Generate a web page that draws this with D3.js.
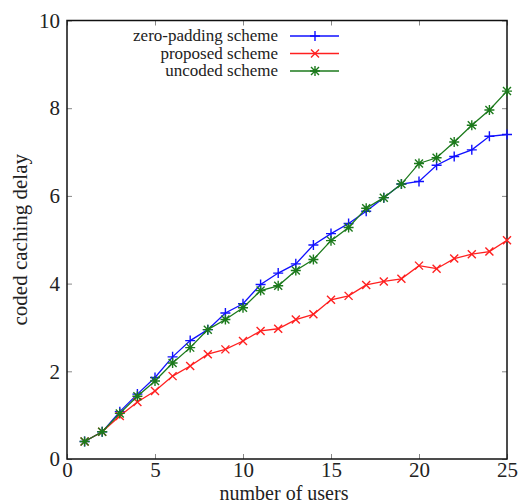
<!DOCTYPE html>
<html>
<head>
<meta charset="utf-8">
<script src="https://cdn.jsdelivr.net/npm/d3@7"></script>
<style>
  body { margin: 0; background: #fff; }
  svg { display: block; }
</style>
</head>
<body>
<div id="chart"></div>
<script>
// Data
var users = d3.range(1, 26);
var zeroPadding = [0.40, 0.62, 1.08, 1.48, 1.86, 2.33, 2.70, 2.95, 3.33, 3.54,
  3.98, 4.24, 4.45, 4.88, 5.14, 5.37, 5.65, 5.96, 6.27, 6.33,
  6.70, 6.90, 7.05, 7.36, 7.40];
var proposed = [0.40, 0.62, 0.98, 1.30, 1.55, 1.89, 2.12, 2.39, 2.50, 2.69,
  2.92, 2.97, 3.18, 3.30, 3.63, 3.72, 3.97, 4.05, 4.11, 4.41,
  4.34, 4.57, 4.67, 4.73, 4.99];
var uncoded = [0.40, 0.62, 1.04, 1.43, 1.78, 2.19, 2.54, 2.95, 3.18, 3.45,
  3.84, 3.95, 4.30, 4.55, 4.98, 5.28, 5.72, 5.96, 6.27, 6.74,
  6.87, 7.23, 7.61, 7.96, 8.39];
var seriesNames = ['zero-padding scheme', 'proposed scheme', 'uncoded scheme'];
var xTicks = [0, 5, 10, 15, 20, 25];
var yTicks = [0, 2, 4, 6, 8, 10];

var series = [
  { name: seriesNames[0], values: zeroPadding, color: '#1010ff', marker: 'plus' },
  { name: seriesNames[1], values: proposed, color: '#ff2020', marker: 'cross' },
  { name: seriesNames[2], values: uncoded, color: '#1c7a1c', marker: 'star' }
];

var margin = { top: 20.5, right: 14, bottom: 45, left: 67 };
var totalWidth = 521;
var totalHeight = 504;
var width = totalWidth - margin.left - margin.right;
var height = totalHeight - margin.top - margin.bottom;
var font = "'Liberation Serif', 'Times New Roman', serif";

var x = d3.scaleLinear().domain([0, 25]).range([0, width]);
var y = d3.scaleLinear().domain([0, 10]).range([height, 0]);

var svg = d3.select('#chart')
  .append('svg')
  .attr('width', totalWidth)
  .attr('height', totalHeight);

var main = svg.append('g')
  .attr('transform', 'translate(' + margin.left + ',' + margin.top + ')');

// Marker shapes
function markerPath(type) {
  var r = 5, c = 4;
  var plus = 'M' + (-r) + ',0H' + r + 'M0,' + (-r) + 'V' + r;
  var cross = 'M' + (-c) + ',' + (-c) + 'L' + c + ',' + c + 'M' + (-c) + ',' + c + 'L' + c + ',' + (-c);
  if (type === 'plus') return plus;
  if (type === 'cross') return cross;
  return plus + cross;
}

// Inward ticks on all four sides
function addAxis(axis, transform) {
  var g = main.append('g')
    .attr('transform', transform)
    .call(axis);
  g.select('.domain').remove();
  g.selectAll('.tick line').attr('stroke', '#888').attr('stroke-width', 1);
  g.selectAll('text')
    .style('font-family', font)
    .style('font-size', '21px')
    .attr('fill', '#222');
  return g;
}

addAxis(d3.axisBottom(x).tickValues(xTicks).tickSizeInner(-5).tickPadding(3), 'translate(0,' + height + ')');
addAxis(d3.axisTop(x).tickValues(xTicks).tickSizeInner(-5).tickFormat(''), 'translate(0,0)');
addAxis(d3.axisLeft(y).tickValues(yTicks).tickSizeInner(-5).tickPadding(7), 'translate(0,0)');
addAxis(d3.axisRight(y).tickValues(yTicks).tickSizeInner(-5).tickFormat(''), 'translate(' + width + ',0)');

// Frame
main.append('rect')
  .attr('width', width)
  .attr('height', height)
  .attr('fill', 'none')
  .attr('stroke', '#111')
  .attr('stroke-width', 1.5);

var line = d3.line()
  .x(function(d, i) { return x(users[i]); })
  .y(function(d) { return y(d); });

series.forEach(function(s) {
  main.append('path')
    .datum(s.values)
    .attr('d', line)
    .attr('fill', 'none')
    .attr('stroke', s.color)
    .attr('stroke-width', 1.3);

  main.selectAll(null)
    .data(s.values)
    .enter()
    .append('path')
    .attr('transform', function(d, i) { return 'translate(' + x(users[i]) + ',' + y(d) + ')'; })
    .attr('d', markerPath(s.marker))
    .attr('fill', 'none')
    .attr('stroke', s.color)
    .attr('stroke-width', 1.4);
});

// Legend
var legend = main.append('g')
  .attr('transform', 'translate(' + (278 - margin.left) + ',' + (36 - margin.top) + ')');

series.forEach(function(s, i) {
  var row = legend.append('g').attr('transform', 'translate(0,' + (i * 17.5) + ')');
  row.append('text')
    .attr('text-anchor', 'end')
    .attr('dy', '0.32em')
    .style('font-family', font)
    .style('font-size', '17px')
    .attr('fill', '#222')
    .text(s.name);
  row.append('line')
    .attr('x1', 12).attr('x2', 61)
    .attr('stroke', s.color)
    .attr('stroke-width', 1.3);
  row.append('path')
    .attr('transform', 'translate(37,0)')
    .attr('d', markerPath(s.marker))
    .attr('fill', 'none')
    .attr('stroke', s.color)
    .attr('stroke-width', 1.4);
});

// Axis titles
svg.append('text')
  .attr('x', margin.left + width / 2 - 3)
  .attr('y', 500)
  .attr('text-anchor', 'middle')
  .style('font-family', font)
  .style('font-size', '20px')
  .attr('fill', '#222')
  .text('number of users');

svg.append('text')
  .attr('transform', 'translate(27,' + (margin.top + height / 2) + ') rotate(-90)')
  .attr('text-anchor', 'middle')
  .style('font-family', font)
  .style('font-size', '21px')
  .attr('fill', '#222')
  .text('coded caching delay');
</script>
</body>
</html>
